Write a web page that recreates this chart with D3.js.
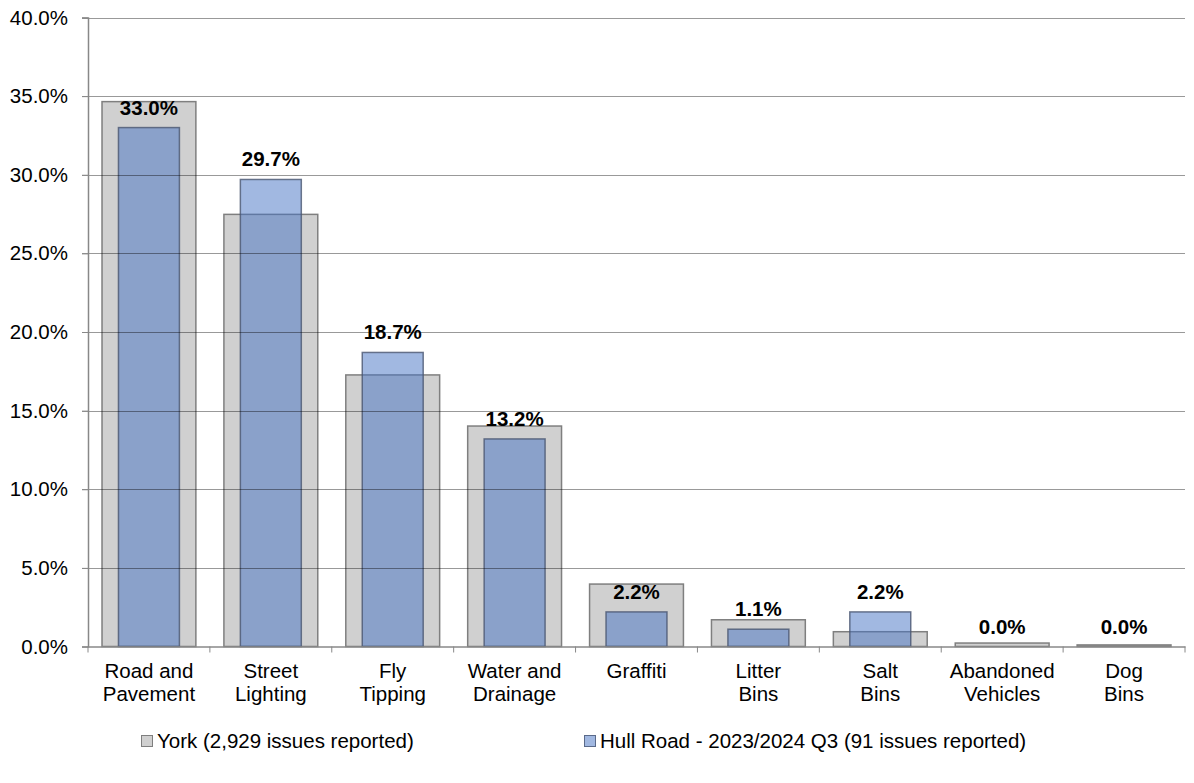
<!DOCTYPE html>
<html><head><meta charset="utf-8">
<script src="https://cdn.jsdelivr.net/npm/d3@7"></script>
<style>body{margin:0;background:#fff;} text{font-family:"Liberation Sans",Arial,sans-serif;}</style>
</head><body>
<svg id="c" width="1194" height="783"></svg>
<script>
const categories = [["Road and","Pavement"],["Street","Lighting"],["Fly","Tipping"],["Water and","Drainage"],["Graffiti"],["Litter","Bins"],["Salt","Bins"],["Abandoned","Vehicles"],["Dog","Bins"]];
const yorkValues = [34.65, 27.48, 17.27, 14.02, 3.97, 1.70, 0.94, 0.22, 0.10];
const hullValues = [33.0, 29.7, 18.7, 13.2, 2.2, 1.1, 2.2, 0.0, 0.0];
const yTicks = [0,5,10,15,20,25,30,35,40];
const legendLabels = ["York (2,929 issues reported)", "Hull Road - 2023/2024 Q3 (91 issues reported)"];

const svg = d3.select("#c");
const pL = 88, pR = 1185, pT = 17.5, pB = 646.5;
const FS = 20.5;
const keys = categories.map((c,i)=>i);
const x = d3.scaleBand().domain(keys).range([pL,pR]).paddingInner(0).paddingOuter(0);
const y = d3.scaleLinear().domain([0,40]).range([pB,pT]);
const bw = x.bandwidth();

// York bars
svg.append("g").selectAll("rect").data(yorkValues).join("rect")
  .attr("x",(d,i)=>x(i)+bw*0.115).attr("width",bw*0.77)
  .attr("y",d=>y(d)).attr("height",d=>pB-y(d))
  .attr("fill","#d0d0d0").attr("stroke","#7f7f7f").attr("stroke-width",1.5);
// Hull bars
svg.append("g").selectAll("rect").data(hullValues).join("rect")
  .attr("x",(d,i)=>x(i)+bw*0.25).attr("width",bw*0.5)
  .attr("y",d=>y(d)).attr("height",d=>pB-y(d))
  .attr("fill","#4472c4").attr("fill-opacity",0.5).attr("stroke","#4a5670").attr("stroke-opacity",0.8).attr("stroke-width",1.5);

// gridlines on top
svg.append("g").selectAll("line").data(yTicks.filter(t=>t>0)).join("line")
  .attr("x1",pL-6).attr("x2",pR).attr("y1",d=>Math.round(y(d))+0.5).attr("y2",d=>Math.round(y(d))+0.5)
  .attr("stroke","#000").attr("stroke-opacity",0.4).attr("stroke-width",1);

// y axis
const ya = d3.axisLeft(y).tickValues(yTicks).tickFormat(d=>d.toFixed(1)+"%").tickSize(6).tickPadding(14);
const yg = svg.append("g").attr("transform",`translate(${pL},0)`).call(ya);
yg.select(".domain").attr("stroke","#888").attr("stroke-width",1.5);
yg.selectAll(".tick line").attr("stroke","#888");
yg.selectAll("text").attr("font-size",FS).attr("fill","#000").attr("font-family","Liberation Sans, Arial, sans-serif");

// x axis
const xa = d3.axisBottom(x).tickSize(0).tickFormat("");
const xg = svg.append("g").attr("transform",`translate(0,${pB})`).call(xa);
xg.select(".domain").attr("stroke","#888").attr("stroke-width",1.5);
xg.selectAll(".tick").remove();
xg.selectAll("line.sep").data(d3.range(categories.length+1)).join("line").attr("class","sep")
  .attr("x1",i=>pL+i*bw).attr("x2",i=>pL+i*bw).attr("y1",0).attr("y2",6).attr("stroke","#888");
svg.append("g").selectAll("text").data(categories).join("text")
  .attr("text-anchor","middle").attr("font-size",FS).attr("fill","#000")
  .each(function(d,i){
    const t=d3.select(this);
    d.forEach((ln,j)=>t.append("tspan").attr("x",x(i)+bw/2).attr("y",678+j*23).text(ln));
  });

// value labels
svg.append("g").selectAll("text").data(hullValues).join("text")
  .attr("x",(d,i)=>x(i)+bw/2).attr("y",d=>y(d)-13)
  .attr("text-anchor","middle").attr("font-size",FS).attr("font-weight","bold").attr("fill","#000")
  .text(d=>d.toFixed(1)+"%");

// legend
const lg = svg.append("g");
const lx = [141, 584];
legendLabels.forEach((lab,i)=>{
  lg.append("rect").attr("x",lx[i]+0.5).attr("y",735.5).attr("width",11).attr("height",11)
    .attr("fill", i===0?"#d0d0d0":"#a1b8e1").attr("stroke", i===0?"#7f7f7f":"#5a6a8a");
  lg.append("text").attr("x",lx[i]+16).attr("y",748).attr("font-size",FS).attr("fill","#000").text(lab);
});
</script>
</body></html>
